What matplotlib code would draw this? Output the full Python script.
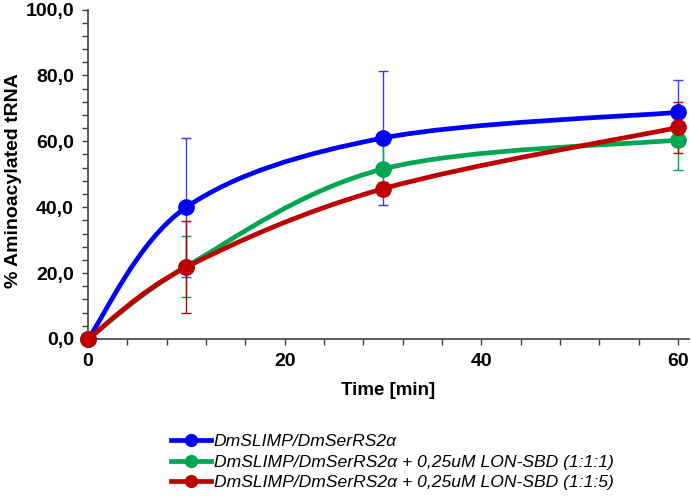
import numpy as np
import matplotlib
matplotlib.use("Agg")
import matplotlib.pyplot as plt
from matplotlib.path import Path
from matplotlib.patches import PathPatch
from matplotlib.lines import Line2D
from matplotlib.ticker import MultipleLocator, FuncFormatter

plt.rcParams['font.family'] = ['Liberation Sans', 'DejaVu Sans']

# data
time = [0, 10, 30, 60]
slimp = [0, 40.0, 61.0, 68.8]
slimp_err = [0, 21.1, 20.4, 9.8]
lon_111 = [0, 22.0, 51.6, 60.4]
lon_111_err = [0, 9.4, 8.0, 9.1]
lon_115 = [0, 21.8, 45.6, 64.2]
lon_115_err = [0, 14.0, 2.0, 7.6]

labels = ["DmSLIMP/DmSerRS2\u03b1",
          "DmSLIMP/DmSerRS2\u03b1 + 0,25uM LON-SBD (1:1:1)",
          "DmSLIMP/DmSerRS2\u03b1 + 0,25uM LON-SBD (1:1:5)"]
colors = ["#0000ff", "#00a651", "#c00000"]
err_colors = ["#3a3aff", "#00a651", "#c00000"]


def smooth_path(x, y):
    # excel style smoothed line: catmull-rom as cubic bezier
    x = np.asarray(x, float)
    y = np.asarray(y, float)
    n = len(x)
    verts = [(x[0], y[0])]
    codes = [Path.MOVETO]
    for i in range(n - 1):
        a = i - 1 if i > 0 else i
        b = i + 2 if i + 2 < n else i + 1
        c1 = (x[i] + (x[i + 1] - x[a]) / 6, y[i] + (y[i + 1] - y[a]) / 6)
        c2 = (x[i + 1] - (x[b] - x[i]) / 6, y[i + 1] - (y[b] - y[i]) / 6)
        verts += [c1, c2, (x[i + 1], y[i + 1])]
        codes += [Path.CURVE4] * 3
    return Path(verts, codes)


fig = plt.figure(figsize=(6.92, 5.03), dpi=100)
ax = fig.add_axes([88 / 692, 1 - 339 / 503, 601 / 692, 329.5 / 503])

series = [slimp, lon_111, lon_115]
errs = [slimp_err, lon_111_err, lon_115_err]

for k, (ys, col) in enumerate(zip(series, colors)):
    ax.add_patch(PathPatch(smooth_path(time, ys), fill=False, edgecolor=col,
                           lw=3.4, capstyle='round', joinstyle='round',
                           zorder=2 + k * 0.1))

for k, (ys, e, col) in enumerate(zip(series, errs, err_colors)):
    ax.errorbar(time[1:], ys[1:], yerr=e[1:], fmt='none', ecolor=col,
                elinewidth=1.0, capsize=3.5, capthick=1.0, zorder=3 + k * 0.1)

for k, (ys, col) in enumerate(zip(series, colors)):
    ax.plot(time, ys, 'o', color=col, ms=11, zorder=4 + k * 0.1, clip_on=False)

ax.set_xlim(0, 61.1)
ax.set_ylim(0, 100)
ax.xaxis.set_major_locator(MultipleLocator(20))
ax.xaxis.set_minor_locator(MultipleLocator(4))
ax.yaxis.set_major_locator(MultipleLocator(20))
ax.yaxis.set_minor_locator(MultipleLocator(4))
ax.yaxis.set_major_formatter(FuncFormatter(lambda v, p: f"{v:.1f}".replace('.', ',')))

for s in ['top', 'right']:
    ax.spines[s].set_visible(False)
for s in ['left', 'bottom']:
    ax.spines[s].set_color('#404040')
    ax.spines[s].set_linewidth(1.2)

ax.tick_params(which='both', direction='out', length=4, width=1.0, color='#404040')
ax.tick_params(which='major', labelsize=14, pad=6)
for t in ax.get_xticklabels() + ax.get_yticklabels():
    t.set_fontweight('bold')

ax.set_xlabel("Time [min]", fontsize=13.5, fontweight='bold', labelpad=9)
ax.set_ylabel("% Aminoacylated tRNA", fontsize=14, fontweight='bold')
ax.yaxis.set_label_coords(-0.11, 0.48)

handles = [Line2D([], [], color=c, lw=3.4, marker='o', ms=8.5) for c in colors]
fig.legend(handles, labels, loc='upper left', bbox_to_anchor=(171 / 692, 1 - 434 / 503),
           frameon=False, prop={'style': 'italic', 'size': 12.6},
           handlelength=2.3, handletextpad=0.15, labelspacing=0.3,
           borderpad=0, borderaxespad=0)

fig.savefig("out.png", dpi=100)
